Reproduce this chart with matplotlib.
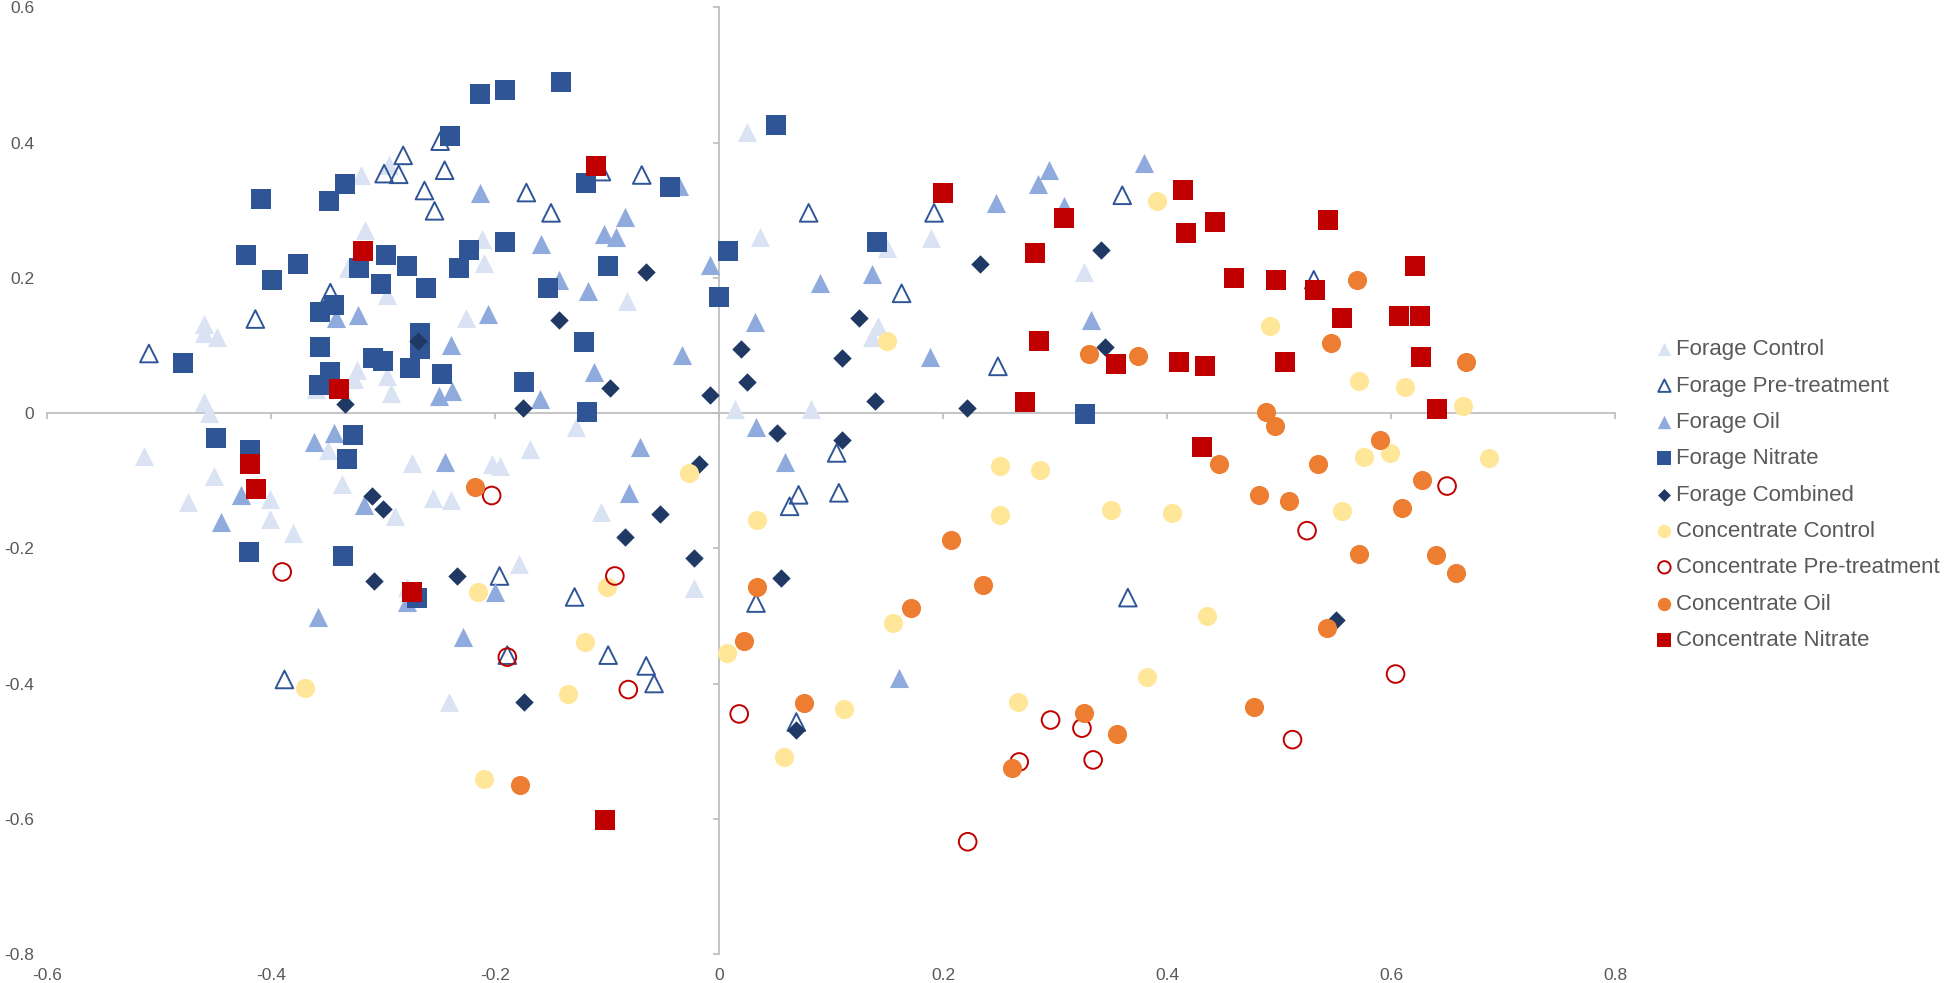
import matplotlib
matplotlib.use("Agg")
import matplotlib.pyplot as plt

plt.rcParams['font.family'] = ['Liberation Sans', 'DejaVu Sans']
plt.rcParams['axes.unicode_minus'] = False

# ---- data ----
forage_control_x = [-0.320, -0.295, -0.316, -0.331, -0.296, -0.460, 0.025, 0.037, -0.212, -0.210,
                    -0.082, -0.226, 0.189, 0.150, 0.326, 0.142, -0.460, -0.448, -0.460, -0.455,
                    -0.513, -0.451, -0.474, -0.401, -0.401, -0.380, -0.323, -0.326, -0.296, -0.293,
                    -0.360, -0.349, -0.337, -0.274, -0.255, -0.289, -0.279, -0.128, -0.169, -0.203,
                    -0.196, -0.239, -0.105, -0.179, -0.022, 0.014, 0.082, -0.241, 0.137]
forage_control_y = [0.352, 0.367, 0.270, 0.215, 0.175, 0.131, 0.415, 0.261, 0.258, 0.222,
                    0.165, 0.141, 0.259, 0.244, 0.209, 0.128, 0.119, 0.112, 0.017, 0.000,
                    -0.063, -0.093, -0.132, -0.127, -0.157, -0.177, 0.064, 0.050, 0.054, 0.030,
                    0.035, -0.054, -0.105, -0.074, -0.125, -0.153, -0.257, -0.020, -0.053, -0.076,
                    -0.078, -0.128, -0.147, -0.223, -0.259, 0.006, 0.006, -0.427, 0.112]

forage_pre_x = [-0.509, -0.414, -0.347, -0.282, -0.299, -0.286, -0.249, -0.245, -0.263, -0.254,
                -0.172, -0.150, -0.069, -0.105, 0.080, 0.163, 0.192, 0.360, 0.531, 0.249,
                0.105, 0.071, 0.063, 0.107, 0.033, 0.365, -0.196, -0.129, -0.189, -0.099,
                -0.065, -0.058, 0.069, -0.388]
forage_pre_y = [0.088, 0.139, 0.178, 0.381, 0.354, 0.353, 0.402, 0.359, 0.329, 0.299,
                0.326, 0.296, 0.352, 0.357, 0.296, 0.177, 0.296, 0.322, 0.197, 0.069,
                -0.059, -0.121, -0.138, -0.118, -0.281, -0.273, -0.241, -0.272, -0.358, -0.358,
                -0.374, -0.400, -0.457, -0.394]

forage_oil_x = [-0.213, -0.159, -0.103, -0.092, -0.084, -0.036, -0.008, 0.090, -0.143, -0.117,
                -0.206, 0.032, -0.322, -0.342, 0.295, 0.285, 0.247, 0.308, 0.379, 0.137,
                0.332, 0.188, -0.362, -0.344, -0.427, -0.445, -0.317, -0.279, -0.358, -0.239,
                -0.250, -0.238, -0.245, -0.160, -0.112, -0.033, -0.071, -0.080, -0.200, -0.229,
                0.033, 0.059, 0.161]
forage_oil_y = [0.326, 0.250, 0.265, 0.261, 0.290, 0.336, 0.219, 0.193, 0.197, 0.181,
                0.147, 0.135, 0.145, 0.140, 0.360, 0.338, 0.311, 0.306, 0.370, 0.206,
                0.138, 0.083, -0.043, -0.029, -0.121, -0.161, -0.136, -0.279, -0.302, 0.101,
                0.025, 0.032, -0.073, 0.021, 0.061, 0.086, -0.050, -0.118, -0.264, -0.331,
                -0.020, -0.073, -0.392]

forage_nitrate_x = [-0.141, -0.191, -0.213, -0.240, 0.051, -0.409, -0.348, -0.334, -0.119, -0.044,
                    -0.422, -0.376, -0.399, -0.321, -0.297, -0.279, -0.302, -0.262, -0.232, -0.223,
                    -0.191, -0.099, -0.153, 0.008, 0.000, 0.141, -0.344, -0.356, -0.267, -0.356,
                    -0.267, -0.309, -0.300, -0.276, -0.247, -0.121, -0.347, -0.357, -0.174, -0.118,
                    -0.479, -0.449, -0.419, -0.327, -0.332, -0.420, -0.336, -0.270, 0.327]
forage_nitrate_y = [0.489, 0.478, 0.472, 0.410, 0.426, 0.316, 0.314, 0.338, 0.340, 0.334,
                    0.233, 0.220, 0.197, 0.215, 0.233, 0.217, 0.191, 0.185, 0.215, 0.241,
                    0.253, 0.217, 0.185, 0.239, 0.171, 0.253, 0.160, 0.149, 0.118, 0.097,
                    0.094, 0.081, 0.077, 0.066, 0.057, 0.105, 0.061, 0.042, 0.046, 0.002,
                    0.074, -0.037, -0.055, -0.033, -0.068, -0.206, -0.211, -0.274, -0.002]

forage_comb_x = [-0.065, -0.143, -0.269, -0.334, -0.310, -0.300, -0.308, 0.020, 0.025, -0.097,
                 -0.008, -0.175, 0.052, 0.110, 0.110, -0.018, -0.053, -0.084, -0.022, 0.055,
                 -0.234, -0.174, 0.069, 0.139, 0.221, 0.345, 0.233, 0.341, 0.125, 0.551]
forage_comb_y = [0.208, 0.138, 0.106, 0.014, -0.123, -0.142, -0.248, 0.094, 0.046, 0.037,
                 0.027, 0.008, -0.029, -0.040, 0.081, -0.075, -0.149, -0.183, -0.215, -0.244,
                 -0.241, -0.427, -0.469, 0.018, 0.008, 0.098, 0.221, 0.241, 0.141, -0.306]

conc_control_x = [0.391, 0.492, 0.571, 0.612, 0.664, 0.576, 0.599, 0.687, 0.556, 0.150,
                  0.251, 0.287, 0.251, 0.350, 0.404, 0.155, 0.436, 0.382, 0.267, 0.112,
                  -0.027, 0.034, -0.215, -0.100, -0.120, 0.007, -0.135, -0.210, 0.058, -0.370]
conc_control_y = [0.314, 0.128, 0.048, 0.039, 0.011, -0.065, -0.059, -0.066, -0.145, 0.107,
                  -0.078, -0.084, -0.151, -0.143, -0.148, -0.310, -0.300, -0.390, -0.427, -0.437,
                  -0.088, -0.158, -0.264, -0.257, -0.338, -0.355, -0.416, -0.541, -0.509, -0.406]

conc_pre_x = [-0.390, -0.203, -0.093, -0.189, -0.081, 0.018, 0.296, 0.324, 0.268, 0.334,
              0.222, 0.650, 0.525, 0.604, 0.512]
conc_pre_y = [-0.235, -0.122, -0.241, -0.361, -0.409, -0.445, -0.454, -0.466, -0.516, -0.513,
              -0.634, -0.108, -0.174, -0.386, -0.483]

conc_oil_x = [-0.218, 0.034, 0.022, -0.178, 0.076, 0.326, 0.355, 0.262, 0.330, 0.374,
              0.446, 0.207, 0.236, 0.171, 0.546, 0.667, 0.488, 0.496, 0.590, 0.535,
              0.628, 0.482, 0.509, 0.610, 0.571, 0.640, 0.658, 0.543, 0.478, 0.570]
conc_oil_y = [-0.109, -0.257, -0.337, -0.550, -0.429, -0.444, -0.475, -0.525, 0.088, 0.085,
              -0.076, -0.188, -0.254, -0.288, 0.104, 0.076, 0.002, -0.019, -0.040, -0.076,
              -0.099, -0.121, -0.130, -0.140, -0.208, -0.210, -0.236, -0.318, -0.435, 0.197]

conc_nitrate_x = [-0.318, -0.110, -0.339, -0.419, -0.413, -0.274, -0.102, 0.200, 0.308, 0.282,
                  0.414, 0.443, 0.417, 0.460, 0.544, 0.497, 0.532, 0.621, 0.556, 0.607,
                  0.626, 0.286, 0.354, 0.411, 0.434, 0.273, 0.431, 0.505, 0.627, 0.641]
conc_nitrate_y = [0.239, 0.366, 0.036, -0.076, -0.112, -0.265, -0.602, 0.326, 0.288, 0.237,
                  0.330, 0.283, 0.266, 0.200, 0.285, 0.197, 0.182, 0.217, 0.141, 0.143,
                  0.143, 0.107, 0.073, 0.076, 0.070, 0.017, -0.050, 0.076, 0.083, 0.006]

x_ticks = [-0.6, -0.4, -0.2, 0, 0.2, 0.4, 0.6, 0.8]
y_ticks = [-0.8, -0.6, -0.4, -0.2, 0, 0.2, 0.4, 0.6]

# ---- figure ----
fig = plt.figure(figsize=(19.46, 9.83), dpi=100)
ax = fig.add_axes([0.02415, 0.0295, 0.8058, 0.9631])
ax.set_xlim(-0.6, 0.8)
ax.set_ylim(-0.8, 0.6)

axis_grey = '#BFBFBF'
text_grey = '#595959'

for side in ['top', 'right']:
    ax.spines[side].set_visible(False)
for side in ['left', 'bottom']:
    ax.spines[side].set_position(('data', 0))
    ax.spines[side].set_color(axis_grey)
    ax.spines[side].set_linewidth(1.3)
ax.set_xticks(x_ticks)
ax.set_yticks(y_ticks)
ax.tick_params(direction='out', length=4, width=1.3, color=axis_grey,
               labelbottom=False, labelleft=False)

# labels stay on the outer edges like the original
secx = ax.secondary_xaxis(0.0)
secx.set_xticks(x_ticks)
secx.set_xticklabels([f"{t:g}" for t in x_ticks])
secx.spines['bottom'].set_visible(False)
secx.tick_params(length=0, pad=10, labelsize=12.5, labelcolor=text_grey)

secy = ax.secondary_yaxis(0.0)
secy.set_yticks(y_ticks)
secy.set_yticklabels([f"{t:g}" for t in y_ticks])
secy.spines['left'].set_visible(False)
secy.tick_params(length=0, pad=9, labelsize=12.5, labelcolor=text_grey)

S = 190
ax.scatter(forage_control_x, forage_control_y, s=S, marker='^', color='#DAE3F3',
           linewidths=0, zorder=3, label='Forage Control')
ax.scatter(forage_pre_x, forage_pre_y, s=S * 0.85, marker='^', facecolors='none',
           edgecolors='#2F5597', linewidths=1.4, zorder=3, label='Forage Pre-treatment')
ax.scatter(forage_oil_x, forage_oil_y, s=S, marker='^', color='#8FAADC',
           linewidths=0, zorder=3, label='Forage Oil')
ax.scatter(forage_nitrate_x, forage_nitrate_y, s=S, marker='s', color='#2F5597',
           linewidths=0, zorder=3, label='Forage Nitrate')
ax.scatter(forage_comb_x, forage_comb_y, s=88, marker='D', color='#1F3864',
           linewidths=0, zorder=3, label='Forage Combined')
ax.scatter(conc_control_x, conc_control_y, s=S, marker='o', color='#FFE699',
           linewidths=0, zorder=3, label='Concentrate Control')
ax.scatter(conc_pre_x, conc_pre_y, s=S * 0.85, marker='o', facecolors='none',
           edgecolors='#C00000', linewidths=1.4, zorder=3, label='Concentrate Pre-treatment')
ax.scatter(conc_oil_x, conc_oil_y, s=S, marker='o', color='#ED7D31',
           linewidths=0, zorder=3, label='Concentrate Oil')
ax.scatter(conc_nitrate_x, conc_nitrate_y, s=S, marker='s', color='#C00000',
           linewidths=0, zorder=3, label='Concentrate Nitrate')

leg = fig.legend(*ax.get_legend_handles_labels(), loc='upper left',
                 bbox_to_anchor=(0.8473, 0.664), frameon=False, fontsize=16,
                 markerscale=0.7, handlelength=0.6, handletextpad=0.2,
                 labelspacing=0.69, borderaxespad=0)
for t in leg.get_texts():
    t.set_color(text_grey)

fig.savefig('out.png', dpi=100)
